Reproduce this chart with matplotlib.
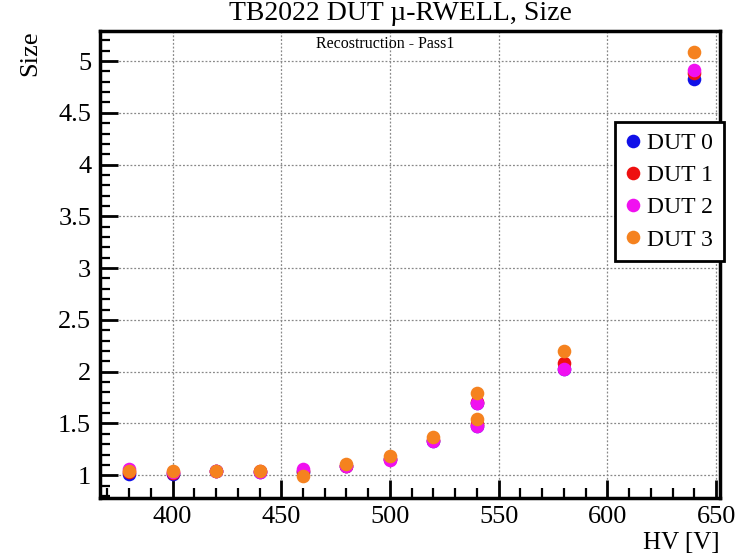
import matplotlib
matplotlib.use("Agg")
import matplotlib.pyplot as plt
from matplotlib.ticker import MultipleLocator

hv = [380, 400, 420, 440, 460, 480, 500, 520, 540, 540, 580, 640]
dut0 = [1.01, 1.01, 1.04, 1.03, 1.03, 1.09, 1.16, 1.33, 1.70, 1.48, 2.03, 4.83]
dut1 = [1.03, 1.02, 1.04, 1.04, 1.04, 1.09, 1.16, 1.34, 1.71, 1.49, 2.08, 4.88]
dut2 = [1.06, 1.03, 1.04, 1.03, 1.06, 1.09, 1.15, 1.33, 1.70, 1.48, 2.03, 4.91]
dut3 = [1.04, 1.04, 1.04, 1.04, 0.99, 1.11, 1.19, 1.37, 1.79, 1.54, 2.20, 5.09]
labels = ["DUT 0", "DUT 1", "DUT 2", "DUT 3"]
colors = ["#1010e8", "#ee1010", "#f010f0", "#f5821f"]

plt.rcParams['font.family'] = ['Liberation Serif', 'DejaVu Serif']

W, H = 742, 557
fig = plt.figure(figsize=(W / 100, H / 100), dpi=100)
L, R, T, B = 99.5, 720, 31, 498
ax = fig.add_axes([L / W, 1 - B / H, (R - L) / W, (B - T) / H])

for y, lab, c in zip([dut0, dut1, dut2, dut3], labels, colors):
    ax.plot(hv, y, linestyle='none', marker='o', markersize=9.8, color=c,
            markeredgewidth=0, label=lab)

ax.set_xlim(366.4, 651.8)
ax.set_ylim(0.78, 5.29)
ax.xaxis.set_minor_locator(MultipleLocator(10))
ax.yaxis.set_minor_locator(MultipleLocator(0.1))
ax.set_xticks([400, 450, 500, 550, 600, 650])
ax.set_yticks([1, 1.5, 2, 2.5, 3, 3.5, 4, 4.5, 5])
ax.set_yticklabels(["1", "1.5", "2", "2.5", "3", "3.5", "4", "4.5", "5"])
ax.grid(True, which='major', linestyle=(0, (1.5, 1.5)), color='#888888', linewidth=0.9)
ax.tick_params(which='major', direction='in', length=13, width=2, labelsize=19,
               top=False, right=False, pad=6)
ax.tick_params(which='minor', direction='in', length=7, width=1.6,
               top=False, right=False)
for s in ax.spines.values():
    s.set_linewidth(2.5)

fig.text(400 / W, 1 - 14 / H, "TB2022 DUT \u00b5-RWELL, Size", ha='center', va='center', fontsize=20)
fig.text(385 / W, 1 - 44 / H, "Recostruction - Pass1", ha='center', va='center', fontsize=11.5)
fig.text(30 / W, 1 - 30 / H, "Size", rotation=90, ha='center', va='top', fontsize=19)
fig.text(720 / W, 1 - 543 / H, "HV [V]", ha='right', va='center', fontsize=18)

leg = fig.legend(loc='upper left', bbox_to_anchor=(615 / W, 1 - 122 / H),
                 fontsize=17, frameon=True, fancybox=False, framealpha=1,
                 edgecolor='black', handlelength=0.6, handletextpad=0.3,
                 borderpad=0.45, labelspacing=0.45, borderaxespad=0, markerscale=1.0)
leg.get_frame().set_linewidth(2)

fig.savefig("out.png", dpi=100)
